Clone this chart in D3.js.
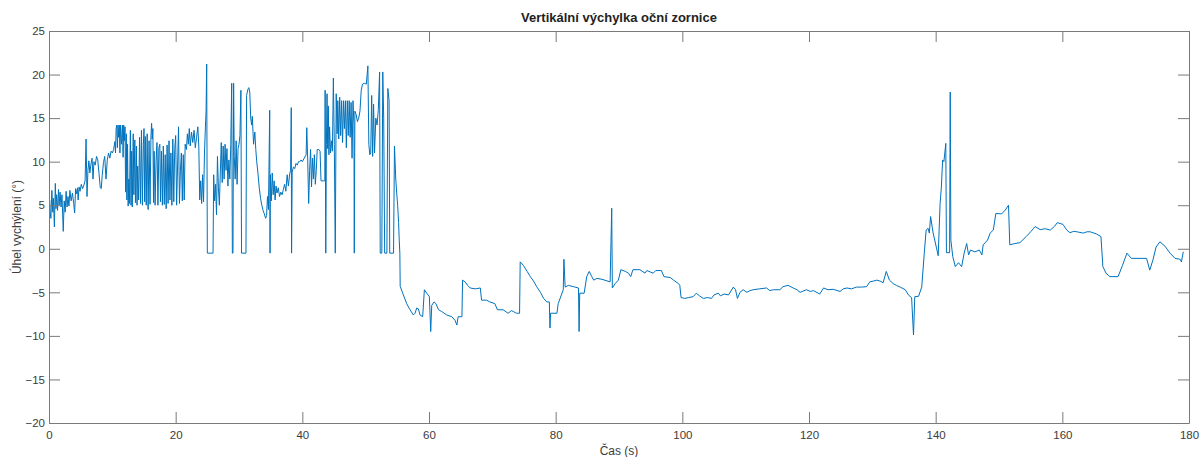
<!DOCTYPE html>
<html>
<head>
<meta charset="utf-8">
<script src="https://cdn.jsdelivr.net/npm/d3@7"></script>
<style>
  body { margin: 0; background: #fff; }
  svg text { font-family: "Liberation Sans", Arial, sans-serif; }
</style>
</head>
<body>
<div id="chart"></div>
<script>
// vertikální výchylka – [čas (s), úhel (°)]
const traceStart = [
  [0.0,3.6],[0.1,5.6],[0.2,4.0],[0.3,3.5],[0.45,6.7],[0.6,4.2],[0.7,5.8],[0.85,2.5],[1.0,7.5],[1.1,4.6],
  [1.2,6.2],[1.35,4.4],[1.5,6.8],[1.6,5.0],[1.75,6.5],[1.9,4.8],[2.05,6.2],[2.25,2.0],[2.4,5.5],[2.55,4.2],
  [2.7,6.6],[2.85,4.8],[3.0,6.0],[3.15,4.9],[3.3,6.7],[3.5,5.5],[3.7,6.4],[3.9,5.2],[4.05,4.1],[4.2,6.9],
  [4.4,6.3],[4.5,7.0],[4.6,5.6],[4.75,7.1],[4.9,6.6],[5.1,7.4],[5.3,6.9],[5.5,7.3],[5.7,7.8],[5.85,12.6],
  [6.0,6.0],[6.15,9.0],[6.3,10.1],[6.45,8.7],[6.6,9.6],[6.8,10.4],[6.95,8.0],[7.1,10.0],[7.3,9.6],[7.5,10.6],
  [7.7,10.2],[7.9,8.6],[8.1,7.0],[8.25,6.9],[8.4,8.4],[8.6,9.9],[8.8,10.6],[9.0,8.0],[9.2,10.2],[9.4,11.0],
  [9.6,10.4],[9.8,11.2],[10.0,11.0],[10.2,11.4],[10.4,12.3],[10.5,11.0],[10.6,13.8],[10.7,14.2]
];

const traceFixation = [
  [10.8,11.6],[10.9,14.2],[11.0,12.8],[11.1,14.2],[11.2,11.0],[11.3,14.2],[11.45,12.0],[11.6,14.2],[11.7,10.5],[11.8,14.2],
  [11.9,12.4],[12.0,14.0],[12.1,6.5],[12.2,13.2],[12.3,5.6],[12.4,12.0],[12.5,4.9],[12.6,8.0],[12.7,5.2],[12.85,13.6],
  [12.95,5.0],[13.05,11.2],[13.15,4.8],[13.3,13.2],[13.4,6.2],[13.55,12.5],[13.65,5.3],[13.8,11.8],[13.9,5.0],[14.0,9.5],
  [14.15,5.6],[14.3,12.8],[14.45,5.2],[14.6,13.6],[14.75,5.0],[14.9,12.0],[15.0,13.8],[15.1,5.4],[15.2,12.9],[15.35,5.0],
  [15.5,13.2],[15.65,4.5],[15.8,12.4],[15.95,5.1],[16.1,13.0],[16.2,14.4],[16.3,12.6],[16.4,13.8],[16.5,5.3],[16.6,11.2],
  [16.75,5.0],[16.9,10.0],[17.05,12.2],[17.2,5.0],[17.35,11.6],[17.5,12.0],[17.6,5.4],[17.75,11.2],[17.9,5.0],[18.05,11.8],
  [18.2,5.1],[18.35,10.8],[18.5,4.6],[18.65,11.9],[18.8,5.2],[18.95,12.4],[19.1,5.6],[19.25,11.0],[19.4,5.0],[19.55,12.6],
  [19.7,5.4],[19.85,11.4],[20.0,13.0],[20.15,5.0],[20.3,9.5],[20.45,14.0],[20.6,5.2],[20.75,9.0],[20.9,11.0],[21.05,5.5],
  [21.2,10.8],[21.35,5.6],[21.5,12.0],[21.7,11.4],[21.85,13.2],[22.0,12.0],[22.15,13.8],[22.3,11.8],[22.5,13.4],[22.7,12.2],
  [22.9,13.6],[23.1,11.6],[23.3,12.8],[23.5,14.0],[23.65,11.8],[23.8,5.6],[23.95,7.8],[24.1,5.2],[24.25,8.5],[24.4,5.4],
  [24.55,11.0],[24.7,14.0],[24.8,15.8],[24.9,21.2],[25.0,-0.5]
];

const traceSaccades = [
  [25.9,-0.5],[26.0,8.5],[26.15,5.5],[26.3,7.4],[26.45,3.9],[26.6,10.6],[26.75,7.0],[26.9,5.0],[27.05,8.8],[27.2,12.2],
  [27.35,7.6],[27.5,11.8],[27.65,8.0],[27.8,12.0],[27.95,9.0],[28.1,11.5],[28.25,7.2],[28.4,10.2],[28.55,8.0],[28.7,12.0],
  [28.85,19.0],[28.95,-0.5],[29.05,-0.5],[29.15,19.0],[29.25,10.6],[29.4,8.0],[29.55,12.4],[29.7,7.4],[29.85,11.5],[30.0,12.0],
  [30.15,13.0],[30.3,18.2],[30.4,-0.5],[31.1,-0.5],[31.2,17.6],[31.4,18.3],[31.55,18.5],[31.7,18.0],[31.85,15.0],[32.0,14.2],
  [32.1,15.2],[32.3,12.0],[32.5,13.4],[32.65,11.4],[32.8,10.0],[33.0,8.6],[33.2,7.0],[33.4,5.8],[33.6,5.0],[33.8,4.4],
  [34.0,4.0],[34.2,3.5],[34.35,3.8],[34.5,6.0],[34.65,4.5],[34.85,15.9],[34.9,-0.5],[34.95,8.5],[35.1,5.5],[35.25,8.7],
  [35.4,6.2],[35.55,7.8],[35.7,5.6],[35.85,7.2],[36.0,6.4],[36.2,7.0],[36.4,6.0],[36.6,6.5],[36.8,6.2],[37.0,6.8],
  [37.2,7.4],[37.4,6.6],[37.6,8.5],[37.8,7.2],[38.0,8.6],[38.15,9.0],[38.25,16.2],[38.3,-0.5],[38.4,8.8],[38.6,9.4],
  [38.8,9.2],[39.0,9.8],[39.2,9.6],[39.4,10.0],[39.6,10.0],[39.8,10.2],[40.0,10.0],[40.3,10.4],[40.6,10.8],[40.7,13.9],
  [40.85,10.2],[41.0,5.2],[41.15,9.0],[41.3,11.4],[41.45,7.1],[41.6,10.4],[41.75,8.0],[41.9,10.8],[42.05,7.4],[42.2,9.0],
  [42.35,11.4],[42.6,11.4],[42.8,11.2],[42.95,7.8],[43.3,7.8],[43.55,7.8],[43.6,18.2],[43.7,-0.5],[43.8,12.0],[43.9,17.8],
  [44.0,11.5],[44.1,16.4],[44.2,10.8],[44.3,14.0],[44.45,11.0],[44.6,12.4],[44.75,11.2],[44.9,19.6],[45.05,12.0],[45.2,-0.5],
  [45.35,17.8],[45.5,13.2],[45.6,17.0],[45.75,12.6],[45.9,17.4],[46.05,13.0],[46.2,17.0],[46.35,12.2],[46.5,17.0],[46.65,13.8],
  [46.8,17.0],[46.95,11.6],[47.1,17.0],[47.25,13.0],[47.4,17.0],[47.55,12.8],[47.7,16.8],[47.85,10.4],[48.0,17.0],[48.15,14.2],
  [48.2,-0.5],[48.3,15.8],[48.5,15.4],[48.7,14.6],[48.9,15.0],[49.1,15.8],[49.3,18.2],[49.5,18.9],[49.8,19.0],[50.1,18.9],
  [50.35,21.0],[50.5,12.0],[50.65,10.8],[50.8,11.0],[50.95,17.6],[51.1,10.6],[51.25,16.6],[51.4,11.0],[51.6,15.0],[51.8,14.2],
  [52.0,16.0],[52.2,20.3],[52.3,-0.5],[52.55,-0.5],[52.7,20.3],[52.85,15.0],[53.0,-0.5],[53.35,-0.5],[53.5,18.4],[53.7,17.0],
  [53.8,-0.5],[54.4,-0.5],[54.55,11.8],[54.75,8.0],[54.9,6.4],[55.05,5.0],[55.2,3.0],[55.3,1.0],[55.4,-0.5],[55.45,-4.3]
];

const traceCentre = [
  [55.95,-5.3],[56.48,-6.3],[57.0,-7.0],[57.53,-7.6],[57.8,-7.4],[58.06,-6.8],[58.32,-6.9],[58.58,-7.6],[59.0,-7.8],[59.27,-4.7],
  [59.64,-5.1],[60.06,-5.5],[60.27,-9.5],[60.43,-6.5],[60.8,-6.1],[61.1,-6.3],[61.5,-7.0],[62.0,-7.2],[62.8,-7.6],[63.6,-7.8],
  [64.1,-8.2],[64.4,-8.75],[64.6,-7.8],[65.2,-7.8],[65.3,-3.6],[65.7,-3.8],[66.1,-4.2],[66.5,-4.5],[67.3,-4.6],[68.1,-4.5],
  [68.3,-5.9],[69.1,-5.9],[69.6,-6.1],[70.4,-6.3],[70.8,-7.0],[71.7,-7.0],[72.5,-7.4],[73.0,-7.1],[73.3,-7.2],[73.8,-7.4],
  [74.3,-7.4],[74.4,-1.5],[74.9,-1.9],[75.5,-2.6],[76.0,-3.2],[76.5,-3.7],[77.0,-4.35],[77.6,-5.0],[78.1,-5.7],[78.6,-6.1],
  [79.0,-6.1],[79.1,-9.1],[79.2,-7.4],[80.2,-7.4],[80.4,-6.3],[80.9,-5.3],[81.2,-4.7],[81.3,-1.2],[81.5,-4.4],[82.0,-4.2],
  [82.8,-4.35],[83.6,-4.5],[83.7,-9.5],[83.8,-5.1],[84.5,-5.1],[84.9,-3.2],[85.3,-2.6],[85.7,-3.2],[86.0,-3.6],[86.5,-3.4],
  [87.3,-3.5],[88.6,-3.8],[88.85,4.65],[88.95,-4.5],[89.4,-4.0],[89.9,-3.6],[90.3,-2.4],[91.0,-2.6],[91.5,-2.8],[91.85,-3.2],
  [92.2,-2.4],[93.3,-2.4],[94.1,-2.8],[94.4,-2.5],[95.4,-2.8],[95.8,-2.5],[96.7,-2.5],[97.1,-3.2],[98.1,-3.3],[98.6,-3.6],
  [99.4,-4.0],[99.6,-4.2],[99.8,-5.6],[100.4,-5.7],[101.0,-5.6],[101.7,-5.5],[102.2,-5.1],[102.7,-5.4],[103.3,-5.7],[104.0,-5.6],
  [104.6,-5.7],[105.0,-5.3],[105.7,-5.1],[106.0,-5.4],[106.6,-5.2],[107.3,-5.3],[108.05,-4.4],[108.4,-4.7],[108.7,-5.7],[109.1,-5.0],
  [109.6,-4.7],[110.2,-5.0],[110.7,-4.8],[111.2,-4.7],[112.2,-4.6],[113.3,-4.5],[113.8,-4.8],[114.4,-4.7],[115.4,-4.7],[115.9,-4.35],
  [116.7,-4.2],[117.5,-4.5],[118.1,-4.7],[118.6,-5.0],[119.6,-4.7],[120.2,-4.9],[120.7,-4.8],[121.7,-5.2],[122.3,-4.5],[123.0,-4.7],
  [123.8,-4.65],[124.9,-4.9],[125.4,-4.6],[126.0,-4.5],[126.7,-4.6],[127.5,-4.4],[128.3,-4.4],[129.1,-4.35],[129.6,-3.8],[130.2,-3.7],
  [130.7,-3.6],[131.2,-3.7],[131.7,-3.9],[132.2,-2.6],[132.7,-3.6],[133.3,-4.0],[133.8,-4.2],[134.4,-4.4],[135.2,-4.7],[135.7,-5.3],
  [136.2,-5.6],[136.5,-9.9],[136.7,-5.5],[137.3,-5.45]
];

const traceEnd = [
  [137.8,-4.4],[138.2,-0.5],[138.5,2.15],[138.8,2.35],[139.0,1.8],[139.2,3.7],[139.6,1.8],[140.1,0.2],[140.4,-0.8],[140.7,5.2],
  [140.9,7.1],[141.1,10.2],[141.3,10.0],[141.6,12.1],[141.7,-0.45],[142.2,-0.45],[142.3,18.0],[142.4,1.0],[142.7,-0.9],[143.1,-2.05],
  [143.6,-1.6],[144.1,-2.05],[144.5,-0.5],[144.9,0.6],[145.2,-0.7],[145.5,-0.15],[146.2,-0.35],[146.9,-0.15],[147.3,-0.7],[147.5,0.45],
  [148.2,1.0],[148.6,1.8],[149.1,2.15],[149.5,4.05],[150.4,4.0],[151.0,4.45],[151.5,5.0],[151.7,0.45],[152.5,0.6],[153.3,0.7],
  [154.3,1.4],[155.0,1.95],[155.7,2.55],[156.5,2.2],[157.3,2.3],[158.1,2.15],[158.8,2.6],[159.2,3.0],[160.1,2.8],[160.7,2.15],
  [161.2,1.85],[161.8,2.0],[162.3,1.95],[163.3,1.8],[163.9,1.95],[164.4,1.95],[165.4,1.7],[166.1,1.4],[166.4,-2.05],[166.9,-2.8],
  [167.5,-3.2],[168.8,-3.2],[169.5,-1.9],[170.2,-0.5],[170.9,-1.1],[172.1,-1.1],[173.3,-1.1],[173.8,-2.45],[174.3,-1.3],[174.8,0.2],
  [175.4,0.8],[176.2,0.3],[177.0,-0.5],[177.8,-1.1],[178.6,-1.2],[178.8,-1.5],[179.1,-0.35]
];

const xTicks = [0, 20, 40, 60, 80, 100, 120, 140, 160, 180];
const yTicks = [-20, -15, -10, -5, 0, 5, 10, 15, 20, 25];

const chartTitle = "Vertikální výchylka oční zornice";
const xTitle = "Čas (s)";
const yTitle = "Úhel vychýlení (°)";

const samples = [].concat(traceStart, traceFixation, traceSaccades, traceCentre, traceEnd);

const W = 1201, H = 457;
const margin = { top: 31, right: 12, bottom: 34, left: 49 };
const width = W - margin.left - margin.right;
const height = H - margin.top - margin.bottom;

const svg = d3.select("#chart").append("svg")
  .attr("width", W)
  .attr("height", H);

const g = svg.append("g")
  .attr("transform", `translate(${margin.left},${margin.top})`);

const x = d3.scaleLinear().domain([0, 180]).range([0, width]);
const y = d3.scaleLinear().domain([-20, 25]).range([height, 0]);

const axisColor = "#7a7a7a";
const textColor = "#3c3c3c";

g.append("defs").append("clipPath").attr("id", "plotClip")
  .append("rect").attr("width", width).attr("height", height);

// čára signálu
const line = d3.line()
  .x(d => x(d[0]))
  .y(d => y(d[1]));

g.append("path")
  .datum(samples)
  .attr("clip-path", "url(#plotClip)")
  .attr("fill", "none")
  .attr("stroke", "#0072BD")
  .attr("stroke-width", 1)
  .attr("stroke-linejoin", "round")
  .attr("d", line);

// osy jako v MATLABu (box, ticky dovnitř)
function styleAxis(sel, showText) {
  sel.select(".domain").attr("stroke", axisColor);
  sel.selectAll(".tick line").attr("stroke", axisColor);
  sel.selectAll(".tick text")
    .attr("fill", textColor)
    .style("font-size", "11.5px")
    .style("display", showText ? null : "none");
}

g.append("g")
  .attr("transform", `translate(0,${height})`)
  .call(d3.axisBottom(x).tickValues(xTicks).tickSize(-11).tickSizeOuter(0).tickPadding(8))
  .call(s => styleAxis(s, true));

g.append("g")
  .call(d3.axisTop(x).tickValues(xTicks).tickSize(-11).tickSizeOuter(0))
  .call(s => styleAxis(s, false));

g.append("g")
  .call(d3.axisLeft(y).tickValues(yTicks).tickSize(-11).tickSizeOuter(0).tickPadding(4))
  .call(s => styleAxis(s, true));

g.append("g")
  .attr("transform", `translate(${width},0)`)
  .call(d3.axisRight(y).tickValues(yTicks).tickSize(-11).tickSizeOuter(0))
  .call(s => styleAxis(s, false));

// titulky
svg.append("text")
  .attr("x", margin.left + width / 2)
  .attr("y", 22)
  .attr("text-anchor", "middle")
  .attr("fill", "#222")
  .style("font-size", "13px")
  .style("font-weight", "bold")
  .text(chartTitle);

svg.append("text")
  .attr("x", margin.left + width / 2)
  .attr("y", 455)
  .attr("text-anchor", "middle")
  .attr("fill", textColor)
  .style("font-size", "12px")
  .text(xTitle);

svg.append("text")
  .attr("transform", `translate(21,${margin.top + height / 2}) rotate(-90)`)
  .attr("text-anchor", "middle")
  .attr("fill", textColor)
  .style("font-size", "12px")
  .text(yTitle);
</script>
</body>
</html>
